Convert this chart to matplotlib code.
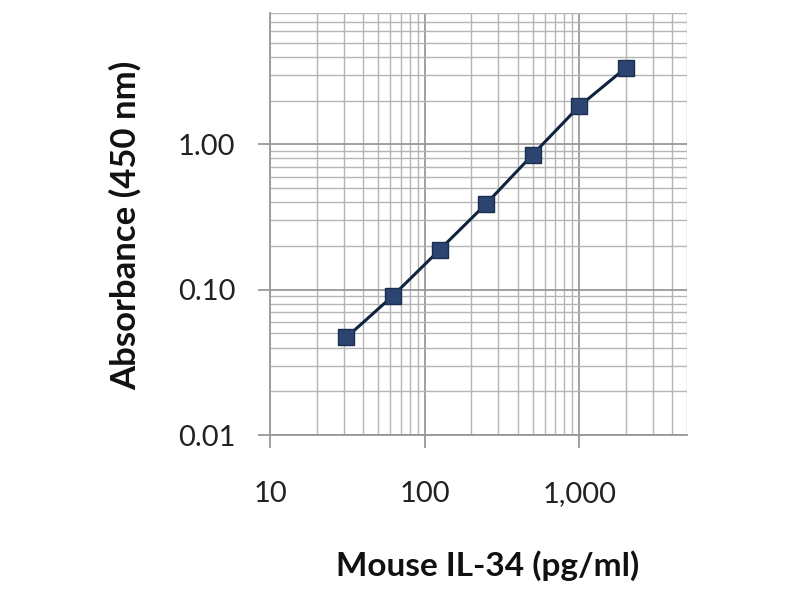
import matplotlib.pyplot as plt
from matplotlib.ticker import FixedLocator, LogLocator, FuncFormatter, NullFormatter

conc = [31.25, 62.5, 125, 250, 500, 1000, 2000]
absorbance = [0.047, 0.091, 0.188, 0.39, 0.85, 1.83, 3.36]

x_ticks = [10, 100, 1000]
x_labels = ["10", "100", "1,000"]
y_ticks = [0.01, 0.1, 1.0]
y_labels = ["0.01", "0.10", "1.00"]

plt.rcParams['font.family'] = ['Lato', 'DejaVu Sans']

fig = plt.figure(figsize=(8, 6), dpi=100)
ax = fig.add_axes([0.3375, 0.275, 0.5215, 0.703])

ax.set_xscale("log")
ax.set_yscale("log")
ax.set_xlim(10, 5000)
ax.set_ylim(0.01, 8)

ax.plot(conc, absorbance, color="#0f2340", linewidth=2.2, marker="s",
        markersize=12, markerfacecolor="#2b4570", markeredgecolor="#1a2e50",
        zorder=5)

ax.xaxis.set_major_locator(FixedLocator(x_ticks))
ax.xaxis.set_major_formatter(FuncFormatter(lambda v, p: x_labels[x_ticks.index(v)] if v in x_ticks else ""))
ax.xaxis.set_minor_locator(LogLocator(base=10, subs=range(2, 10)))
ax.xaxis.set_minor_formatter(NullFormatter())
ax.yaxis.set_major_locator(FixedLocator(y_ticks))
ax.yaxis.set_major_formatter(FuncFormatter(lambda v, p: y_labels[y_ticks.index(v)] if v in y_ticks else ""))
ax.yaxis.set_minor_locator(LogLocator(base=10, subs=range(2, 10)))
ax.yaxis.set_minor_formatter(NullFormatter())

ax.grid(which="major", color="#999999", linewidth=1.3)
ax.grid(which="minor", color="#b5b5b5", linewidth=1.0)
ax.set_axisbelow(True)

for s in ax.spines.values():
    s.set_visible(False)
for side in ["left", "bottom"]:
    ax.spines[side].set_visible(True)
    ax.spines[side].set_color("#999999")
    ax.spines[side].set_linewidth(1.3)

ax.tick_params(which="major", length=9, width=1.3, color="#999999",
               labelsize=21, labelcolor="#222222")
ax.tick_params(axis="x", which="major", pad=24)
ax.tick_params(axis="y", which="major", pad=16)
ax.tick_params(which="minor", length=0)

fig.text(0.61, 0.057, "Mouse IL-34 (pg/ml)", fontsize=24, fontweight="bold",
         color="#111111", ha="center", va="center")
fig.text(0.157, 0.625, "Absorbance (450 nm)", fontsize=25, fontweight="bold",
         color="#111111", ha="center", va="center", rotation=90)

fig.savefig("out.png", dpi=100)
